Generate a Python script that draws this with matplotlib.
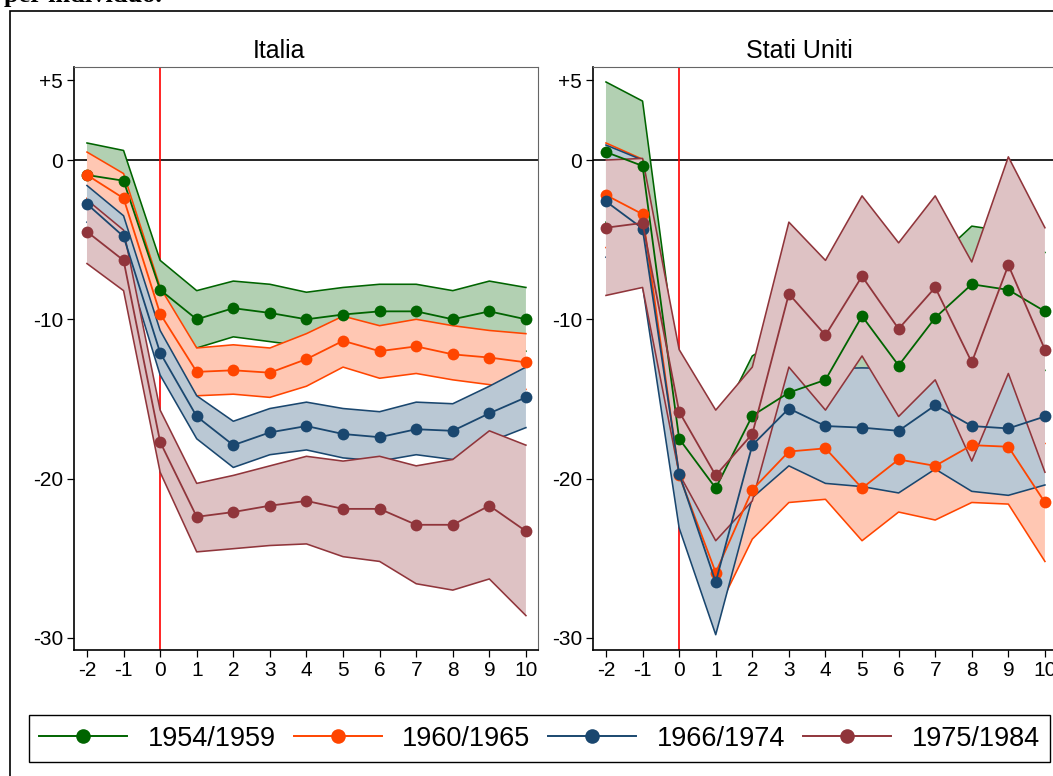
import matplotlib
matplotlib.use("Agg")
import matplotlib.pyplot as plt
from matplotlib.lines import Line2D
from matplotlib.patches import Rectangle

plt.rcParams['font.family'] = ['Liberation Sans', 'DejaVu Sans']

# ---------------- data ----------------
years = [-2, -1, 0, 1, 2, 3, 4, 5, 6, 7, 8, 9, 10]
cohorts = ["1954/1959", "1960/1965", "1966/1974", "1975/1984"]
panel_titles = ["Italia", "Stati Uniti"]
ytick_vals = [5, 0, -10, -20, -30]
ytick_labels = ["+5", "0", "-10", "-20", "-30"]

# Italia
it_g_mean = [-0.94, -1.3, -8.15, -10.0, -9.3, -9.6, -10.0, -9.7, -9.5, -9.5, -10.0, -9.5, -10.0]
it_g_hi = [1.07, 0.6, -6.3, -8.2, -7.6, -7.8, -8.3, -8.0, -7.8, -7.8, -8.2, -7.6, -8.0]
it_g_lo = [-2.95, -3.2, -10.0, -11.8, -11.1, -11.4, -11.7, -11.4, -11.2, -11.2, -11.8, -11.4, -12.0]

it_o_mean = [-0.94, -2.4, -9.65, -13.3, -13.2, -13.35, -12.5, -11.35, -12.0, -11.7, -12.2, -12.4, -12.7]
it_o_hi = [0.5, -0.85, -8.0, -11.8, -11.6, -11.8, -10.9, -9.8, -10.4, -10.0, -10.4, -10.7, -10.9]
it_o_lo = [-2.4, -3.9, -11.3, -14.8, -14.7, -14.9, -14.2, -13.0, -13.7, -13.4, -13.8, -14.1, -14.4]

it_b_mean = [-2.76, -4.8, -12.1, -16.1, -17.9, -17.1, -16.7, -17.2, -17.4, -16.9, -17.0, -15.9, -14.9]
it_b_hi = [-1.6, -3.5, -10.7, -14.8, -16.4, -15.6, -15.2, -15.6, -15.8, -15.2, -15.3, -14.2, -13.0]
it_b_lo = [-3.9, -6.0, -13.5, -17.5, -19.3, -18.5, -18.2, -18.7, -18.9, -18.5, -18.8, -17.7, -16.8]

it_m_mean = [-4.5, -6.3, -17.7, -22.4, -22.1, -21.7, -21.4, -21.9, -21.9, -22.9, -22.9, -21.7, -23.3]
it_m_hi = [-2.5, -4.4, -15.7, -20.3, -19.8, -19.2, -18.6, -18.9, -18.6, -19.2, -18.8, -17.0, -17.9]
it_m_lo = [-6.5, -8.2, -19.6, -24.6, -24.4, -24.2, -24.1, -24.9, -25.2, -26.6, -27.0, -26.3, -28.6]

# Stati Uniti
us_g_mean = [0.5, -0.37, -17.5, -20.6, -16.05, -14.6, -13.8, -9.8, -12.9, -9.9, -7.8, -8.15, -9.5]
us_g_hi = [4.9, 3.7, -13.7, -16.9, -12.3, -10.9, -10.1, -6.1, -9.2, -6.3, -4.15, -4.5, -5.8]
us_g_lo = [-3.9, -4.5, -21.3, -24.3, -19.8, -18.3, -17.5, -13.5, -16.6, -13.5, -11.45, -11.8, -13.2]

us_o_mean = [-2.2, -3.4, -19.8, -25.9, -20.7, -18.3, -18.1, -20.6, -18.8, -19.2, -17.9, -18.0, -21.5]
us_o_hi = [1.07, 0.05, -16.8, -23.3, -17.6, -15.1, -14.9, -17.3, -15.5, -15.8, -14.3, -14.4, -17.8]
us_o_lo = [-5.5, -6.8, -22.8, -28.5, -23.8, -21.5, -21.3, -23.9, -22.1, -22.6, -21.5, -21.6, -25.2]

us_b_mean = [-2.6, -4.3, -19.7, -26.5, -17.9, -15.6, -16.7, -16.8, -17.0, -15.4, -16.7, -16.85, -16.1]
us_b_hi = [0.94, 0.0, -16.3, -23.2, -14.6, -12.0, -13.1, -13.05, -13.1, -11.4, -12.6, -12.65, -11.8]
us_b_lo = [-6.1, -7.9, -23.1, -29.8, -21.2, -19.2, -20.3, -20.5, -20.9, -19.4, -20.8, -21.05, -20.4]

us_m_mean = [-4.25, -3.95, -15.8, -19.8, -17.2, -8.4, -11.0, -7.3, -10.6, -8.0, -12.7, -6.6, -11.9]
us_m_hi = [0.0, 0.1, -11.9, -15.7, -13.0, -3.9, -6.3, -2.25, -5.2, -2.25, -6.4, 0.2, -4.25]
us_m_lo = [-8.5, -8.0, -19.7, -23.9, -21.4, -13.0, -15.7, -12.3, -16.1, -13.8, -18.9, -13.4, -19.6]

# ---------------- style ----------------
line_colors = ["#006400", "#ff4500", "#1a476f", "#90353b"]
fill_colors = ["#b2d0b2", "#ffc7b3", "#bac8d4", "#dec2c4"]

W, H = 1053, 776
fig = plt.figure(figsize=(W / 100, H / 100), dpi=100)


def px_axes(x0, y0, x1, y1):
    return fig.add_axes([x0 / W, 1 - y1 / H, (x1 - x0) / W, (y1 - y0) / H])


ax1 = px_axes(74, 67, 538, 650)
ax2 = px_axes(593, 67, 1057, 650)
title_x = [279, 799]

panels = [
    (ax1, [(it_g_mean, it_g_hi, it_g_lo), (it_o_mean, it_o_hi, it_o_lo),
           (it_b_mean, it_b_hi, it_b_lo), (it_m_mean, it_m_hi, it_m_lo)]),
    (ax2, [(us_g_mean, us_g_hi, us_g_lo), (us_o_mean, us_o_hi, us_o_lo),
           (us_b_mean, us_b_hi, us_b_lo), (us_m_mean, us_m_hi, us_m_lo)]),
]

for (ax, series), title, tx in zip(panels, panel_titles, title_x):
    ax.axhline(0, color="black", lw=1.2, zorder=1)
    ax.axvline(0, color="red", lw=1.2, zorder=1)
    for i, (mean, hi, lo) in enumerate(series):
        ax.fill_between(years, lo, hi, facecolor=fill_colors[i],
                        edgecolor="none", zorder=2 + i * 0.1)
        ax.plot(years, hi, color=line_colors[i], lw=1.15, zorder=2.05 + i * 0.1)
        ax.plot(years, lo, color=line_colors[i], lw=1.15, zorder=2.05 + i * 0.1)
    for i, (mean, hi, lo) in enumerate(series):
        ax.plot(years, mean, color=line_colors[i], lw=1.3, marker="o",
                markersize=8.5, markeredgewidth=0, zorder=3 + i * 0.1)

    ax.set_xlim(-2.355, 10.33)
    ax.set_ylim(-30.76, 5.84)
    ax.set_xticks(years)
    ax.set_xticklabels([str(v) for v in years])
    ax.set_yticks(ytick_vals)
    ax.set_yticklabels(ytick_labels)
    ax.tick_params(axis="both", length=5, width=0.9, labelsize=15,
                   color="black", direction="out")
    ax.tick_params(axis="y", pad=3)
    ax.tick_params(axis="x", pad=3)
    for side in ("left", "bottom"):
        ax.spines[side].set_linewidth(1.2)
        ax.spines[side].set_color("black")
    for side in ("top", "right"):
        ax.spines[side].set_linewidth(0.8)
        ax.spines[side].set_color("#666666")
    fig.text(tx / W, 1 - 58 / H, title, fontsize=18, ha="center",
             va="baseline")

# outer frame
fig.add_artist(Rectangle((10 / W, -0.1), 1.2, 1 - 11 / H + 0.1,
                         transform=fig.transFigure, fill=False,
                         edgecolor="black", lw=1.2, clip_on=False))

# cut-off heading at the top
fig.text(4 / W, 1 - 2 / H, "per individuo.", fontsize=19, fontweight="bold",
         family=["Liberation Serif", "DejaVu Serif"], va="baseline", ha="left")

# legend
handles = [Line2D([0], [0], color=c, lw=1.4, marker="o", markersize=10.5,
                  markeredgewidth=0) for c in line_colors]
leg = fig.legend(handles, cohorts, loc="lower left",
                 bbox_to_anchor=(29 / W, 1 - 762 / H, (1050 - 29) / W, 50 / H),
                 mode="expand", ncol=4, fontsize=19.5, frameon=True,
                 fancybox=False, edgecolor="black", framealpha=1,
                 handlelength=3.25, handletextpad=0.75, borderaxespad=0,
                 borderpad=0.38)
leg.get_frame().set_linewidth(1.0)

fig.savefig("out.png", dpi=100)
